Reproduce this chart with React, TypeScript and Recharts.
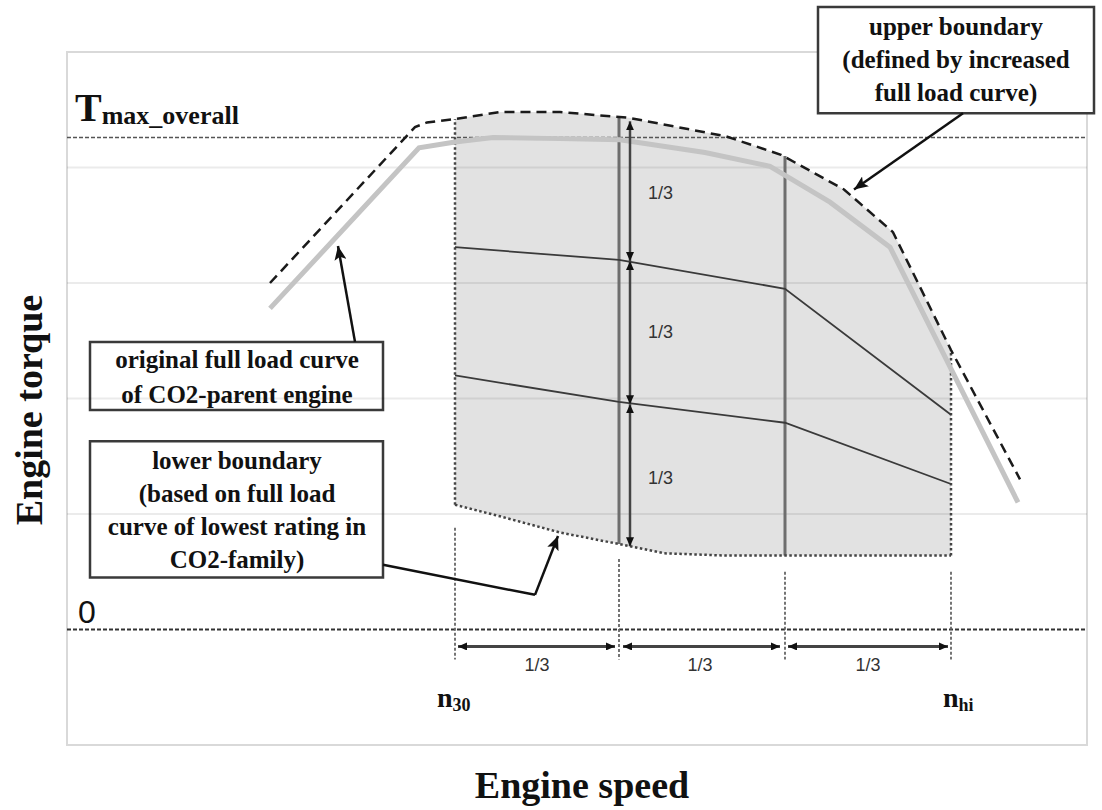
import {
  Area,
  ComposedChart,
  Line,
  ReferenceArea,
  ReferenceDot,
  ReferenceLine,
  XAxis,
  YAxis,
} from 'recharts';

const SERIF = '"Liberation Serif", "Times New Roman", serif';
const SANS = '"Liberation Sans", Arial, sans-serif';

// engine speed s (arbitrary units 0..1020), engine torque t (one grid step = 1)
const fullLoadCurve = [
  { s: 203, t: 2.78 },
  { s: 352, t: 4.17 },
  { s: 388, t: 4.22 },
  { s: 426, t: 4.26 },
  { s: 493, t: 4.25 },
  { s: 553, t: 4.24 },
  { s: 638, t: 4.13 },
  { s: 703, t: 4.01 },
  { s: 763, t: 3.7 },
  { s: 823, t: 3.31 },
  { s: 951, t: 1.1 },
];

const upperBoundary = [
  { s: 203, t: 3.0 },
  { s: 348, t: 4.35 },
  { s: 360, t: 4.39 },
  { s: 388, t: 4.42 },
  { s: 433, t: 4.48 },
  { s: 493, t: 4.48 },
  { s: 562, t: 4.43 },
  { s: 659, t: 4.27 },
  { s: 714, t: 4.11 },
  { s: 777, t: 3.81 },
  { s: 826, t: 3.44 },
  { s: 884, t: 2.42 },
  { s: 953, t: 1.3 },
];

const lowerBoundary = [
  { s: 388, t: 1.08 },
  { s: 433, t: 0.98 },
  { s: 493, t: 0.84 },
  { s: 552, t: 0.74 },
  { s: 597, t: 0.66 },
  { s: 659, t: 0.64 },
  { s: 718, t: 0.64 },
  { s: 884, t: 0.64 },
];

// family range between lower and upper boundary, n30..nhi
const familyBand = [
  { s: 388, band: [1.08, 4.42] },
  { s: 433, band: [0.98, 4.48] },
  { s: 493, band: [0.84, 4.48] },
  { s: 552, band: [0.74, 4.44] },
  { s: 562, band: [0.72, 4.43] },
  { s: 597, band: [0.66, 4.37] },
  { s: 659, band: [0.64, 4.27] },
  { s: 714, band: [0.64, 4.11] },
  { s: 777, band: [0.64, 3.81] },
  { s: 826, band: [0.64, 3.44] },
  { s: 884, band: [0.64, 2.42] },
];

const twoThirdsLine = [
  { s: 388, t: 3.31 },
  { s: 552, t: 3.2 },
  { s: 718, t: 2.95 },
  { s: 884, t: 1.86 },
];

const oneThirdLine = [
  { s: 388, t: 2.2 },
  { s: 552, t: 1.97 },
  { s: 718, t: 1.79 },
  { s: 884, t: 1.26 },
];

const torqueGrid = [1, 2, 3, 4];
const tMaxOverall = 4.26;

const speedSplits = [
  { s: 552, low: 0.74, high: 4.44 },
  { s: 718, low: 0.64, high: 4.1 },
];
const rangeEdges = [
  { s: 388, low: 1.08, high: 4.42 },
  { s: 884, low: 0.64, high: 2.42 },
];
const speedMarks = [
  { s: 388, top: 0.88 },
  { s: 552, top: 0.61 },
  { s: 718, top: 0.5 },
  { s: 884, top: 0.5 },
];
const speedMarkBottom = -0.26;

const speedThirds = [
  [391, 548],
  [556, 713],
  [721, 881],
];
const speedThirdRow = -0.147;
const speedThirdLabels = [470, 633, 801];
const speedThirdLabelRow = -0.36;

const torqueThirdSpeed = 563;
const torqueThirds = [
  [4.4, 3.19],
  [3.19, 1.95],
  [1.95, 0.72],
];
const torqueThirdLabelSpeed = 581;
const torqueThirdLabels = [3.73, 2.52, 1.26];

const noteBoxes = [
  { s1: 751, s2: 1027, t1: 4.47, t2: 5.39 },
  { s1: 23, s2: 316, t1: 1.9, t2: 2.49 },
  { s1: 23, s2: 316, t1: 0.45, t2: 1.63 },
];
const noteTexts = [
  { s: 889, t: 5.15, gap: 33, lines: ['upper boundary', '(defined by increased', 'full load curve)'] },
  { s: 170, t: 2.26, gap: 35, lines: ['original full load curve', 'of CO2-parent engine'] },
  {
    s: 170,
    t: 1.39,
    gap: 33,
    lines: ['lower boundary', '(based on full load', 'curve of lowest rating in', 'CO2-family)'],
  },
];
const notePointers = [
  { from: { x: 896, y: 4.47 }, to: { x: 787, y: 3.81 }, head: true },
  { from: { x: 288, y: 2.49 }, to: { x: 271, y: 3.32 }, head: true },
  { from: { x: 316, y: 0.56 }, to: { x: 468, y: 0.3 }, head: false },
  { from: { x: 468, y: 0.3 }, to: { x: 491, y: 0.81 }, head: true },
];

const speedNames = [
  { s: 370, t: -0.667, main: 'n', sub: '30' },
  { s: 876, t: -0.667, main: 'n', sub: 'hi' },
];

const arrowLine =
  (marker: string, both: boolean, color: string, width: number, withHead = true) =>
  (p: any) => (
    <line
      x1={p.x1}
      y1={p.y1}
      x2={p.x2}
      y2={p.y2}
      stroke={color}
      strokeWidth={width}
      markerStart={both ? `url(#${marker})` : undefined}
      markerEnd={withHead ? `url(#${marker})` : undefined}
    />
  );

const multiLine = (lines: string[], gap: number) => (props: any) => {
  const { x, y } = props.viewBox;
  return (
    <text
      x={x}
      y={y}
      textAnchor="middle"
      fontFamily={SERIF}
      fontWeight="bold"
      fontSize={25}
      fill="#111"
    >
      {lines.map((line, i) => (
        <tspan key={i} x={x} dy={i === 0 ? 0 : gap}>
          {line}
        </tspan>
      ))}
    </text>
  );
};

const fraction = (anchor: 'start' | 'middle') => (props: any) => {
  const { x, y } = props.viewBox;
  return (
    <text x={x} y={y} textAnchor={anchor} fontFamily={SANS} fontSize={18} fill="#333">
      1/3
    </text>
  );
};

const subscripted = (main: string, sub: string, mainSize: number, subSize: number, shift: number) =>
  (props: any) => {
    const { x, y } = props.viewBox;
    return (
      <text x={x} y={y} fontFamily={SERIF} fontWeight="bold" fill="#111">
        <tspan fontSize={mainSize}>{main}</tspan>
        <tspan fontSize={subSize} dy={shift}>
          {sub}
        </tspan>
      </text>
    );
  };

const plainText =
  (value: string, size: number, family: string, rotate = false, weight = 'bold') =>
  (props: any) => {
    const { x, y } = props.viewBox;
    return (
      <text
        x={x}
        y={y}
        textAnchor="middle"
        transform={rotate ? `rotate(-90 ${x} ${y})` : undefined}
        fontFamily={family}
        fontWeight={weight}
        fontSize={size}
        fill="#111"
      >
        {value}
      </text>
    );
  };

const anchorDot = { r: 0, fill: 'none', stroke: 'none', ifOverflow: 'visible' as const };

export default function App() {
  return (
    <div style={{ position: 'absolute', left: 0, top: 0, background: '#fff' }}>
      <ComposedChart
        width={1102}
        height={810}
        margin={{ top: 52, right: 15, bottom: 65, left: 67 }}
      >
        <defs>
          <marker
            id="dimHead"
            viewBox="0 0 9 8"
            refX="9"
            refY="4"
            markerWidth="9"
            markerHeight="8"
            markerUnits="userSpaceOnUse"
            orient="auto-start-reverse"
          >
            <path d="M0,0 L9,4 L0,8 z" fill="#111" />
          </marker>
          <marker
            id="noteHead"
            viewBox="0 0 14 12"
            refX="14"
            refY="6"
            markerWidth="14"
            markerHeight="12"
            markerUnits="userSpaceOnUse"
            orient="auto-start-reverse"
          >
            <path d="M0,0 L14,6 L0,12 L3,6 z" fill="#111" />
          </marker>
        </defs>
        <XAxis type="number" dataKey="s" domain={[0, 1020]} hide allowDataOverflow />
        <YAxis type="number" domain={[-1, 5]} hide allowDataOverflow />

        <ReferenceArea
          x1={0}
          x2={1020}
          y1={-1}
          y2={5}
          fill="none"
          stroke="#d9d9d9"
          strokeWidth={2}
          ifOverflow="visible"
        />

        <Area
          data={familyBand}
          dataKey="band"
          type="linear"
          stroke="none"
          fill="#e2e2e2"
          fillOpacity={1}
          isAnimationActive={false}
        />

        {torqueGrid.map((g) => (
          <ReferenceLine key={g} y={g} stroke="rgba(0,0,0,0.08)" strokeWidth={2} />
        ))}
        <ReferenceLine y={tMaxOverall} stroke="#555" strokeWidth={1.5} strokeDasharray="4 2" />
        <ReferenceLine y={0} stroke="#333" strokeWidth={2} strokeDasharray="4 2" />

        {rangeEdges.map((e) => (
          <ReferenceLine
            key={`edge${e.s}`}
            segment={[
              { x: e.s, y: e.low },
              { x: e.s, y: e.high },
            ]}
            stroke="#444"
            strokeWidth={2.5}
            strokeDasharray="2.5 2.5"
          />
        ))}
        {speedMarks.map((m) => (
          <ReferenceLine
            key={`mark${m.s}`}
            segment={[
              { x: m.s, y: m.top },
              { x: m.s, y: speedMarkBottom },
            ]}
            stroke="#666"
            strokeWidth={1.8}
            strokeDasharray="3 2"
          />
        ))}
        {speedSplits.map((v) => (
          <ReferenceLine
            key={`split${v.s}`}
            segment={[
              { x: v.s, y: v.low },
              { x: v.s, y: v.high },
            ]}
            stroke="#6e6e6e"
            strokeWidth={3}
          />
        ))}

        <Line
          data={lowerBoundary}
          dataKey="t"
          type="linear"
          stroke="#444"
          strokeWidth={2.5}
          strokeDasharray="2.5 2.5"
          dot={false}
          activeDot={false}
          isAnimationActive={false}
        />
        <Line
          data={twoThirdsLine}
          dataKey="t"
          type="linear"
          stroke="#3a3a3a"
          strokeWidth={1.8}
          dot={false}
          activeDot={false}
          isAnimationActive={false}
        />
        <Line
          data={oneThirdLine}
          dataKey="t"
          type="linear"
          stroke="#3a3a3a"
          strokeWidth={1.8}
          dot={false}
          activeDot={false}
          isAnimationActive={false}
        />
        <Line
          data={fullLoadCurve}
          dataKey="t"
          type="linear"
          stroke="#c4c4c4"
          strokeWidth={5}
          dot={false}
          activeDot={false}
          isAnimationActive={false}
        />
        <Line
          data={upperBoundary}
          dataKey="t"
          type="linear"
          stroke="#1a1a1a"
          strokeWidth={2.5}
          strokeDasharray="10 6"
          dot={false}
          activeDot={false}
          isAnimationActive={false}
        />

        {torqueThirds.map(([a, b], i) => (
          <ReferenceLine
            key={`tt${i}`}
            segment={[
              { x: torqueThirdSpeed, y: a },
              { x: torqueThirdSpeed, y: b },
            ]}
            shape={arrowLine('dimHead', true, '#444', 2.5)}
          />
        ))}
        {speedThirds.map(([a, b], i) => (
          <ReferenceLine
            key={`st${i}`}
            segment={[
              { x: a, y: speedThirdRow },
              { x: b, y: speedThirdRow },
            ]}
            shape={arrowLine('dimHead', true, '#444', 3)}
          />
        ))}

        {noteBoxes.map((b, i) => (
          <ReferenceArea
            key={`box${i}`}
            x1={b.s1}
            x2={b.s2}
            y1={b.t1}
            y2={b.t2}
            fill="#fff"
            fillOpacity={1}
            stroke="#3a3a3a"
            strokeWidth={2.5}
            ifOverflow="visible"
          />
        ))}
        {notePointers.map((p, i) => (
          <ReferenceLine
            key={`ptr${i}`}
            segment={[p.from, p.to]}
            ifOverflow="visible"
            shape={arrowLine('noteHead', false, '#111', 2.5, p.head)}
          />
        ))}

        {noteTexts.map((n, i) => (
          <ReferenceDot key={`nt${i}`} x={n.s} y={n.t} {...anchorDot} label={multiLine(n.lines, n.gap)} />
        ))}
        {torqueThirdLabels.map((t, i) => (
          <ReferenceDot key={`tl${i}`} x={torqueThirdLabelSpeed} y={t} {...anchorDot} label={fraction('start')} />
        ))}
        {speedThirdLabels.map((s, i) => (
          <ReferenceDot key={`sl${i}`} x={s} y={speedThirdLabelRow} {...anchorDot} label={fraction('middle')} />
        ))}
        {speedNames.map((n) => (
          <ReferenceDot
            key={n.sub}
            x={n.s}
            y={n.t}
            {...anchorDot}
            label={subscripted(n.main, n.sub, 28, 18, 4)}
          />
        ))}
        <ReferenceDot x={8} y={4.4} {...anchorDot} label={subscripted('T', 'max_overall', 40, 26, 3)} />
        <ReferenceDot x={20} y={0.06} {...anchorDot} label={plainText('0', 32, SANS, false, 'normal')} />
        <ReferenceDot x={515} y={-1.455} {...anchorDot} label={plainText('Engine speed', 38, SERIF)} />
        <ReferenceDot x={-25} y={1.9} {...anchorDot} label={plainText('Engine torque', 38, SERIF, true)} />
      </ComposedChart>
    </div>
  );
}
